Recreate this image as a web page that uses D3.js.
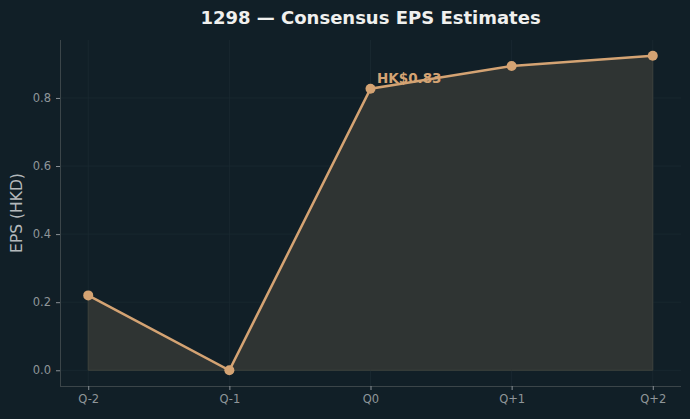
<!DOCTYPE html>
<html><head><meta charset="utf-8">
<script src="https://cdn.jsdelivr.net/npm/d3@7"></script>
<style>
html,body{margin:0;padding:0;background:#111f27;}
svg{display:block;}
</style></head>
<body>
<svg id="chart" width="690" height="419"></svg>
<script>
const categories = ["Q-2","Q-1","Q0","Q+1","Q+2"];
const epsValues = [0.22, 0.0, 0.827, 0.894, 0.924];
const yTicks = [0.0, 0.2, 0.4, 0.6, 0.8];
const titleText = "1298 — Consensus EPS Estimates";
const yLabel = "EPS (HKD)";
const annotationText = "HK$0.83";
const annotationIndex = 2;

const W = 690, H = 419;
const m = {left: 60, right: 9, top: 40, bottom: 33};
const svg = d3.select("#chart");
svg.append("rect").attr("width", W).attr("height", H).attr("fill", "#111f27");

const x = d3.scaleLinear().domain([-0.2, categories.length - 1 + 0.2]).range([m.left, W - m.right]);
const yMax = d3.max(epsValues), yMin = 0;
const pad = (yMax - yMin) * 0.05;
const y = d3.scaleLinear().domain([yMin - pad, yMax + pad]).range([H - m.bottom, m.top]);

const fontFam = "'DejaVu Sans', sans-serif";
// grid
const g = svg.append("g");
g.selectAll(".hg").data(yTicks).enter().append("line")
  .attr("x1", m.left).attr("x2", W - m.right)
  .attr("y1", d => y(d)).attr("y2", d => y(d))
  .attr("stroke", "#1a2a31").attr("stroke-width", 0.8);
g.selectAll(".vg").data(categories).enter().append("line")
  .attr("y1", m.top).attr("y2", H - m.bottom)
  .attr("x1", (d, i) => x(i)).attr("x2", (d, i) => x(i))
  .attr("stroke", "#1a2a31").attr("stroke-width", 0.8);

// area
const area = d3.area().x((d, i) => x(i)).y0(y(0)).y1(d => y(d));
svg.append("path").datum(epsValues).attr("d", area)
  .attr("fill", "#2f3433").attr("stroke", "#3d423c").attr("stroke-width", 1);

// line
const line = d3.line().x((d, i) => x(i)).y(d => y(d));
svg.append("path").datum(epsValues).attr("d", line)
  .attr("fill", "none").attr("stroke", "#d4a373").attr("stroke-width", 2.5);
svg.selectAll(".pt").data(epsValues).enter().append("circle")
  .attr("cx", (d, i) => x(i)).attr("cy", d => y(d)).attr("r", 5)
  .attr("fill", "#d4a373");

// annotation
svg.append("text").attr("x", x(annotationIndex) + 6.5).attr("y", y(epsValues[annotationIndex]) - 6)
  .text(annotationText).attr("fill", "#d4a373").attr("font-family", fontFam)
  .attr("font-weight", "bold").attr("font-size", 13.5);

// axes
const xAxis = d3.axisBottom(x).tickValues(d3.range(categories.length))
  .tickFormat(i => categories[i]).tickSize(4).tickPadding(5);
const yAxis = d3.axisLeft(y).tickValues(yTicks).tickFormat(d3.format(".1f")).tickSize(4).tickPadding(5);
const xa = svg.append("g").attr("transform", `translate(0,${H - m.bottom})`).call(xAxis);
const ya = svg.append("g").attr("transform", `translate(${m.left},0)`).call(yAxis);
[xa, ya].forEach(a => {
  a.select(".domain").attr("stroke", "#3b4549");
  a.selectAll(".tick line").attr("stroke", "#8a9196");
  a.selectAll(".tick text").attr("fill", "#8f969a").attr("font-family", fontFam).attr("font-size", 11.5);
});
xa.select(".domain").attr("d", `M${m.left},0.5H${W - m.right}`);
ya.select(".domain").attr("d", `M0.5,${m.top}V${H - m.bottom}`);

// labels
svg.append("text").attr("x", 370.5).attr("y", 24).attr("text-anchor", "middle")
  .text(titleText).attr("fill", "#f0f0ee").attr("font-family", fontFam)
  .attr("font-weight", "bold").attr("font-size", 18);
svg.append("text").attr("transform", `translate(22,${(m.top + H - m.bottom) / 2}) rotate(-90)`)
  .attr("text-anchor", "middle").text(yLabel).attr("fill", "#b4b9bc")
  .attr("font-family", fontFam).attr("font-size", 15.5);
</script>
</body></html>
